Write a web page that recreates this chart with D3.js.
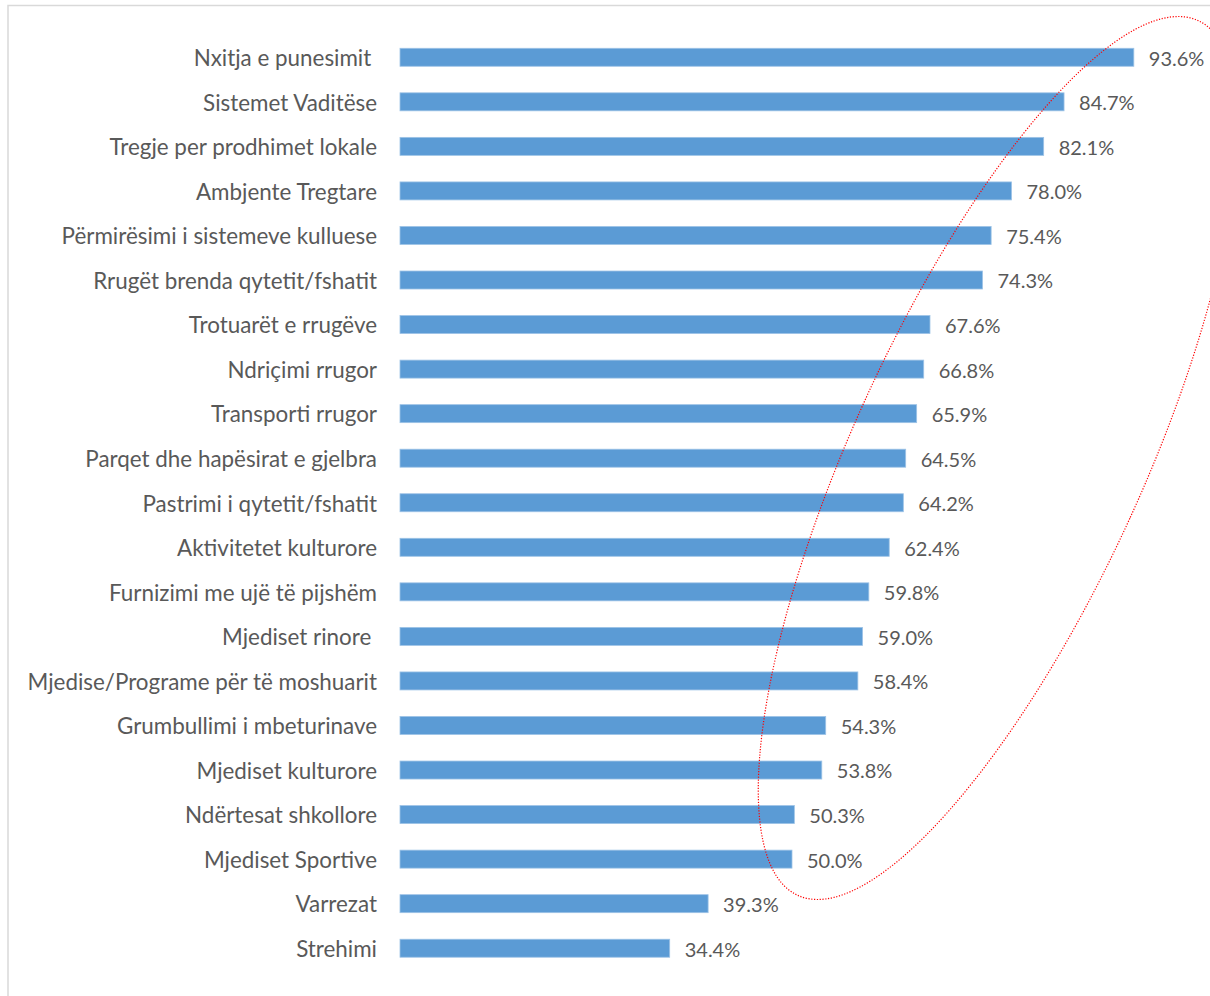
<!DOCTYPE html>
<html>
<head>
<meta charset="utf-8">
<script src="https://cdn.jsdelivr.net/npm/d3@7"></script>
<style>
  html, body { margin: 0; padding: 0; background: #fff; }
  svg { display: block; }
  text { font-family: Lato, "Open Sans", sans-serif; fill: #595959; }
</style>
</head>
<body>
<svg id="chart" width="1210" height="996"></svg>
<script>
const categories = [
  "Nxitja e punesimit ",
  "Sistemet Vaditëse",
  "Tregje per prodhimet lokale",
  "Ambjente Tregtare",
  "Përmirësimi i sistemeve kulluese",
  "Rrugët brenda qytetit/fshatit",
  "Trotuarët e rrugëve",
  "Ndriçimi rrugor",
  "Transporti rrugor",
  "Parqet dhe hapësirat e gjelbra",
  "Pastrimi i qytetit/fshatit",
  "Aktivitetet kulturore",
  "Furnizimi me ujë të pijshëm",
  "Mjediset rinore ",
  "Mjedise/Programe për të moshuarit",
  "Grumbullimi i mbeturinave",
  "Mjediset kulturore",
  "Ndërtesat shkollore",
  "Mjediset Sportive",
  "Varrezat",
  "Strehimi"
];
const values = [93.6, 84.7, 82.1, 78.0, 75.4, 74.3, 67.6, 66.8, 65.9, 64.5, 64.2, 62.4, 59.8, 59.0, 58.4, 54.3, 53.8, 50.3, 50.0, 39.3, 34.4];

const data = categories.map((c, i) => ({ cat: c, val: values[i] }));

const svg = d3.select("#chart");

// chart frame
svg.append("rect")
  .attr("x", 8).attr("y", 5.5)
  .attr("width", 1220).attr("height", 1010)
  .attr("fill", "none")
  .attr("stroke", "#d9d9d9")
  .attr("stroke-width", 1.5);

const x = d3.scaleLinear().domain([0, 100]).range([400, 1184]);
const y = d3.scaleBand().domain(categories).range([35, 970.5]).paddingInner(0.596).paddingOuter(0.298);

// bars
svg.append("g").selectAll("rect")
  .data(data)
  .join("rect")
  .attr("x", x(0))
  .attr("y", d => y(d.cat))
  .attr("width", d => x(d.val) - x(0))
  .attr("height", y.bandwidth())
  .attr("fill", "#5b9bd5")
  .attr("stroke", "#9dc3e6")
  .attr("stroke-width", 0.8);

// category axis
const yAxis = d3.axisLeft(y).tickSize(0).tickPadding(23);
const gy = svg.append("g").attr("transform", `translate(${x(0)},0)`).call(yAxis);
gy.select(".domain").remove();
gy.selectAll("text")
  .attr("font-family", "Lato, 'Open Sans', sans-serif")
  .attr("font-size", 22.4)
  .attr("dy", "0.39em")
  .attr("fill", "#595959")
  .style("white-space", "pre");

// value labels
svg.append("g").selectAll("text")
  .data(data)
  .join("text")
  .attr("x", d => x(d.val) + 15)
  .attr("y", d => y(d.cat) + y.bandwidth() / 2)
  .attr("dy", "0.42em")
  .attr("font-size", 20)
  .text(d => d.val.toFixed(1) + "%");

// annotation ellipse
svg.append("ellipse")
  .attr("cx", 998).attr("cy", 458)
  .attr("rx", 145).attr("ry", 481)
  .attr("transform", "rotate(24.6 998 458)")
  .attr("fill", "none")
  .attr("stroke", "#ff0000")
  .attr("stroke-width", 1.2)
  .attr("stroke-dasharray", "1.2,1.6");
</script>
</body>
</html>
